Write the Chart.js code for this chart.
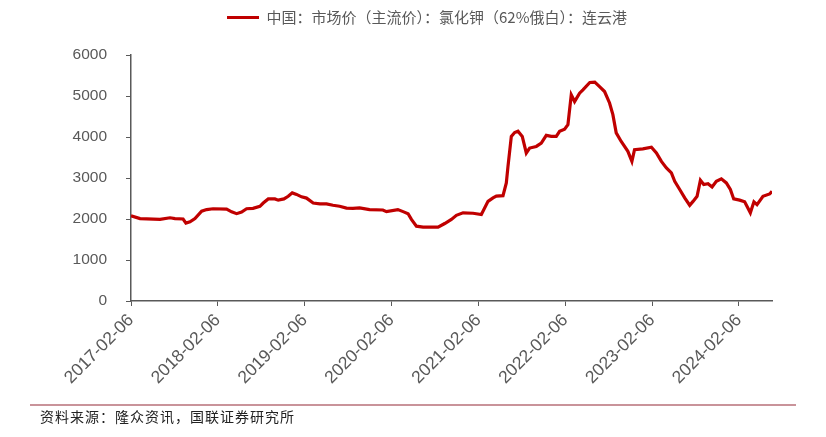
<!DOCTYPE html>
<html>
<head>
<meta charset="utf-8">
<script src="https://cdn.jsdelivr.net/npm/chart.js@4.4.1/dist/chart.umd.min.js"></script>
<style>
  body { margin: 0; background: #fff; }
  #wrap { position: relative; width: 826px; height: 437px; }
  #c { position: absolute; left: 0; top: 0; }
  #rule { position: absolute; left: 30px; top: 404px; width: 766px; border-top: 2px solid #c9939a; }
  #src { position: absolute; left: 40px; top: 406px; font: 14px "Noto Sans CJK SC"; letter-spacing: 1px; color: #222; }
</style>
</head>
<body>
<div id="wrap">
  <canvas id="c" width="826" height="437"></canvas>
  <div id="rule"></div>
  <div id="src">资料来源：隆众资讯，国联证券研究所</div>
</div>
<script>
// series name and tick labels
const seriesName = "中国：市场价（主流价）：氯化钾（62%俄白）：连云港";
const tickLabels = ["2017-02-06", "2018-02-06", "2019-02-06", "2020-02-06",
  "2021-02-06", "2022-02-06", "2023-02-06", "2024-02-06"];
const yTicks = [0, 1000, 2000, 3000, 4000, 5000, 6000];

// (元/吨)
const dates = [
  "2017-02-06", "2017-03-16", "2017-06-08", "2017-07-20", "2017-08-10", "2017-09-13", "2017-09-25",
  "2017-10-12", "2017-11-02", "2017-11-30", "2017-12-21", "2018-01-17", "2018-03-15", "2018-04-05",
  "2018-04-26", "2018-05-17", "2018-06-07", "2018-07-04", "2018-08-02", "2018-08-16", "2018-09-06",
  "2018-10-04", "2018-10-18", "2018-11-11", "2018-11-29", "2018-12-16", "2019-01-03", "2019-01-24",
  "2019-02-14", "2019-03-14", "2019-04-11", "2019-05-09", "2019-06-05", "2019-07-03", "2019-08-01",
  "2019-08-28", "2019-09-25", "2019-11-06", "2020-01-01", "2020-01-16", "2020-03-04", "2020-03-26",
  "2020-04-16", "2020-04-30", "2020-05-21", "2020-06-18", "2020-08-20", "2020-09-17", "2020-10-15",
  "2020-11-05", "2020-12-03", "2021-01-14", "2021-02-18", "2021-03-18", "2021-04-08", "2021-04-22",
  "2021-05-20", "2021-06-03", "2021-06-10", "2021-06-24", "2021-07-08", "2021-07-22", "2021-08-09",
  "2021-08-26", "2021-09-09", "2021-10-07", "2021-10-28", "2021-11-18", "2021-12-09", "2021-12-30",
  "2022-01-13", "2022-02-03", "2022-02-17", "2022-03-03", "2022-03-17", "2022-04-07", "2022-04-21",
  "2022-05-20", "2022-06-10", "2022-06-30", "2022-07-21", "2022-08-11", "2022-08-25", "2022-09-08",
  "2022-09-29", "2022-10-27", "2022-11-13", "2022-11-24", "2022-12-29", "2023-02-03", "2023-02-24",
  "2023-03-17", "2023-04-07", "2023-04-28", "2023-05-12", "2023-06-02", "2023-06-23", "2023-07-14",
  "2023-07-28", "2023-08-14", "2023-08-28", "2023-09-11", "2023-09-29", "2023-10-16", "2023-11-03",
  "2023-11-24", "2023-12-15", "2024-01-01", "2024-01-15", "2024-02-09", "2024-03-01", "2024-03-25",
  "2024-04-09", "2024-04-22", "2024-05-17", "2024-06-14", "2024-06-24"
];
const prices = [
  2080, 2010, 1990, 2030, 2010, 2000, 1900,
  1930, 2010, 2190, 2230, 2250, 2240, 2175,
  2130, 2170, 2250, 2260, 2310, 2390, 2490,
  2490, 2460, 2490, 2555, 2637, 2600, 2540,
  2510, 2390, 2370, 2370, 2335, 2310, 2265,
  2260, 2270, 2230, 2220, 2180, 2230, 2180,
  2130, 1990, 1825, 1800, 1800, 1890, 1990,
  2090, 2150, 2140, 2110, 2430, 2515, 2560,
  2570, 2880, 3285, 4015, 4110, 4140, 4015,
  3610, 3730, 3770, 3850, 4040, 4015, 4015,
  4140, 4190, 4300, 5030, 4865, 5070, 5150,
  5330, 5340, 5230, 5110, 4830, 4545, 4100,
  3890, 3650, 3405, 3690, 3710, 3750, 3610,
  3405, 3245, 3125, 2920, 2720, 2515, 2335,
  2430, 2555, 2945, 2840, 2860, 2780, 2920,
  2980, 2880, 2720, 2490, 2460, 2420, 2150,
  2420, 2350, 2555, 2610, 2675
];

const DAY = 86400000;
const origin = Date.UTC(2017, 1, 6);
function dayIndex(s) {
  const [y, m, d] = s.split("-").map(Number);
  return (Date.UTC(y, m - 1, d) - origin) / DAY;
}

const points = dates.map((d, i) => ({ x: dayIndex(d), y: prices[i] }));
const axisColor = "#595959";

new Chart(document.getElementById("c"), {
  type: "line",
  data: {
    datasets: [{
      label: seriesName,
      data: points,
      borderColor: "#c00000",
      backgroundColor: "#c00000",
      borderWidth: 3.2,
      pointRadius: 0,
      tension: 0,
      fill: false
    }]
  },
  options: {
    responsive: false,
    animation: false,
    layout: { padding: { left: 28, right: 0, top: 0, bottom: 36 } },
    plugins: {
      legend: {
        weight: 3000,
        labels: {
          usePointStyle: true,
          pointStyle: "line",
          pointStyleWidth: 32,
          padding: 10,
          color: axisColor,
          font: { family: "Noto Sans CJK SC", size: 15 }
        }
      },
      // blank spacer under the legend
      title: { display: true, text: "", font: { size: 1 }, padding: { top: 0, bottom: 18.8 } },
      tooltip: { enabled: false }
    },
    scales: {
      x: {
        type: "linear",
        min: 0,
        max: dayIndex(dates[dates.length - 1]),
        afterBuildTicks: (s) => { s.ticks = tickLabels.map((t) => ({ value: dayIndex(t) })); },
        afterFit: (s) => { s.height = 100; },
        grid: { drawOnChartArea: false, drawTicks: true, tickLength: 5, color: axisColor },
        border: { color: axisColor, width: 1.5 },
        ticks: {
          autoSkip: false,
          minRotation: 45,
          maxRotation: 45,
          padding: 4,
          color: axisColor,
          font: { family: "Liberation Sans", size: 17.5 },
          callback: (v, i) => tickLabels[i]
        }
      },
      y: {
        min: 0,
        max: 6000,
        afterBuildTicks: (s) => { s.ticks = yTicks.map((v) => ({ value: v })); },
        afterFit: (s) => { s.width = 103; },
        grid: { drawOnChartArea: false, drawTicks: true, tickLength: 5, color: axisColor },
        border: { color: axisColor, width: 1.5 },
        ticks: {
          padding: 19,
          color: axisColor,
          font: { family: "Liberation Sans", size: 15.5 },
          callback: (v) => String(v)
        }
      },
      yRight: {
        position: "right",
        display: true,
        afterFit: (s) => { s.width = 54; },
        grid: { display: false },
        border: { display: false },
        ticks: { display: false }
      }
    }
  }
});
</script>
</body>
</html>
